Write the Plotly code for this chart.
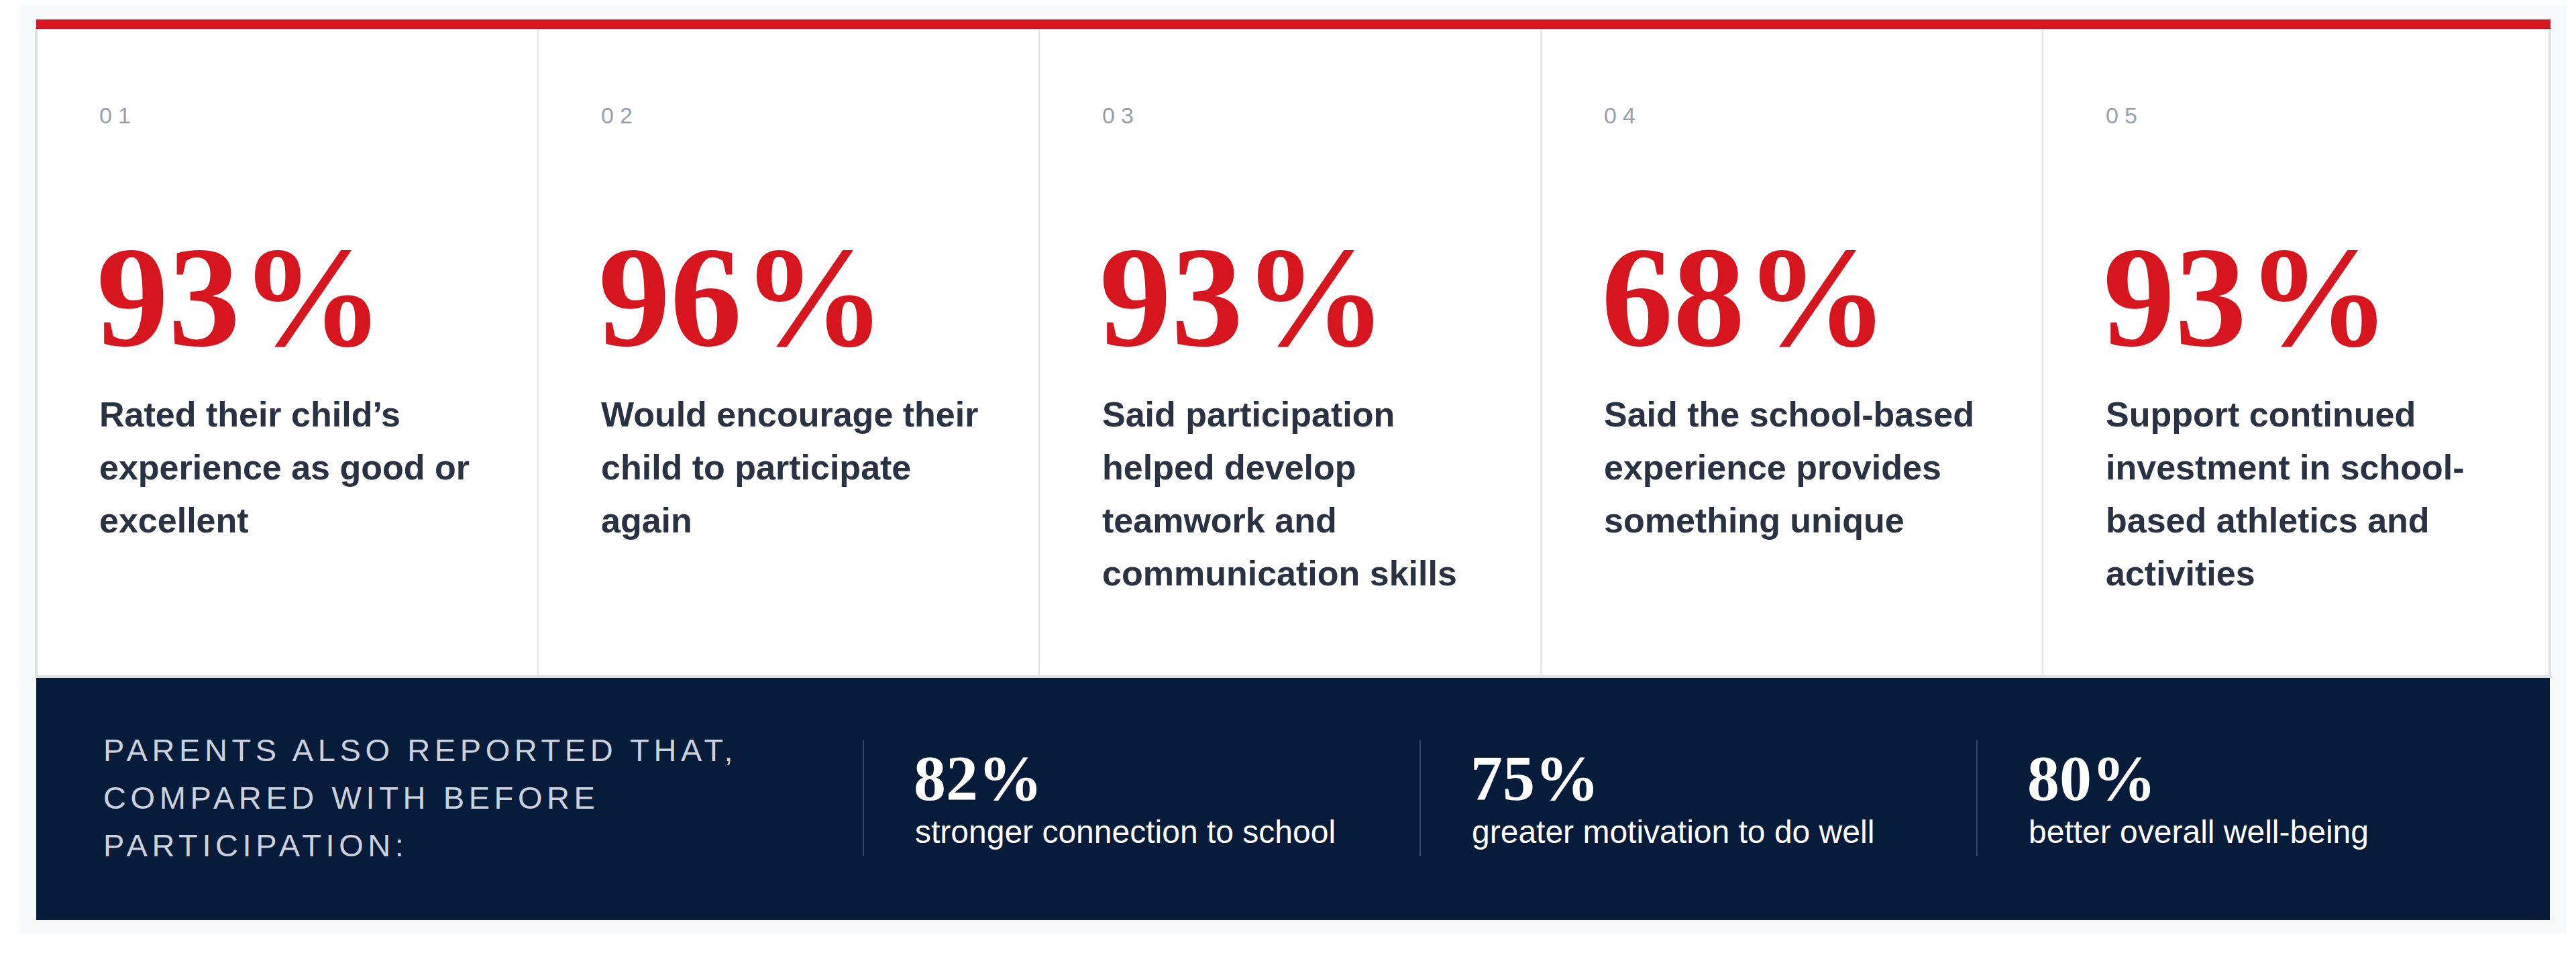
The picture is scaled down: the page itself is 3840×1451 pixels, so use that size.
import plotly.graph_objects as go

W, H = 3840, 1451
OFS = 8  # page body margin, shift the axes so positions match the screen

# survey results, top row
card_nums = ["01", "02", "03", "04", "05"]
card_pcts = [93, 96, 93, 68, 93]
card_text = [
    ["Rated their child\u2019s", "experience as good or", "excellent"],
    ["Would encourage their", "child to participate", "again"],
    ["Said participation", "helped develop", "teamwork and", "communication skills"],
    ["Said the school-based", "experience provides", "something unique"],
    ["Support continued", "investment in school-", "based athletics and", "activities"],
]

# bottom band
band_heading = ["PARENTS ALSO REPORTED THAT,", "COMPARED WITH BEFORE", "PARTICIPATION:"]
band_pcts = [82, 75, 80]
band_text = ["stronger connection to school", "greater motivation to do well", "better overall well-being"]

RED = "#d6151f"
NAVY = "#061c3a"
INK = "#283243"
SANS = "Liberation Sans, Arial, sans-serif"
SERIF = "Liberation Serif, Times New Roman, serif"

left, right = 54, 3801
top, card_bottom = 42, 1009
band_top, band_bottom = 1011, 1372
card_w = 747.7
pad = 92

fig = go.Figure()
shapes = []
ann = []

# soft shadow / page background around the panel
shapes.append(dict(type="rect", x0=28, x1=3826, y0=0, y1=1392, fillcolor="#f8f9fa", line_width=0, layer="below"))
shapes.append(dict(type="rect", x0=left, x1=right, y0=top, y1=card_bottom, fillcolor="white",
                   line=dict(color="#dce1e8", width=4), layer="below"))
for i in range(1, len(card_nums)):
    x = left + i * card_w
    shapes.append(dict(type="line", x0=x, x1=x, y0=top, y1=card_bottom, line=dict(color="#dfe3e9", width=2)))
shapes.append(dict(type="rect", x0=left, x1=right + 1, y0=29, y1=43, fillcolor=RED, line_width=0))
shapes.append(dict(type="rect", x0=left, x1=right, y0=band_top, y1=band_bottom, fillcolor=NAVY, line_width=0))

for i, (num, pct, lines) in enumerate(zip(card_nums, card_pcts, card_text)):
    x = left + i * card_w + pad
    ann.append(dict(x=x, y=172, text='<span style="letter-spacing:9px">%s</span>' % num,
                    font=dict(family=SANS, size=34, color="#96a0b0")))
    ann.append(dict(x=x - 4, y=442, text=f"{pct}%",
                    font=dict(family=SERIF, size=214, color=RED, weight="bold")))
    for k, line in enumerate(lines):
        ann.append(dict(x=x, y=618 + k * 79, text=line,
                        font=dict(family=SANS, size=52, color=INK, weight="bold")))

for k, line in enumerate(band_heading):
    ann.append(dict(x=152, y=1118 + k * 71, text='<span style="letter-spacing:6.6px">%s</span>' % line,
                    font=dict(family=SANS, size=47, color="#cbd2dd")))

div_x0, div_step = 1287, 830
for j, (pct, txt) in enumerate(zip(band_pcts, band_text)):
    dx = div_x0 + j * div_step
    shapes.append(dict(type="line", x0=dx, x1=dx, y0=1104, y1=1277, line=dict(color="#33476a", width=2)))
    ann.append(dict(x=dx + 73, y=1160, text=f"{pct}%",
                    font=dict(family=SERIF, size=96, color="white", weight="bold")))
    ann.append(dict(x=dx + 75, y=1240, text=txt,
                    font=dict(family=SANS, size=48, color="white")))

for a in ann:
    a.update(xref="x", yref="y", showarrow=False, xanchor="left", yanchor="middle")

fig.update_layout(
    width=W, height=H,
    margin=dict(l=0, r=0, t=0, b=0),
    paper_bgcolor="white", plot_bgcolor="white",
    xaxis=dict(range=[OFS, W + OFS], visible=False, fixedrange=True),
    yaxis=dict(range=[H + OFS, OFS], visible=False, fixedrange=True),
    shapes=shapes, annotations=ann,
    showlegend=False,
)

fig.write_html("out.html")
